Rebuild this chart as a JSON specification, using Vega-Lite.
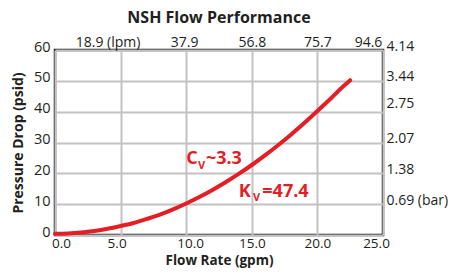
{
  "$schema": "https://vega.github.io/schema/vega-lite/v6.json",
  "width": 328,
  "height": 185,
  "autosize": "none",
  "padding": {"left": 55, "top": 50, "right": 70, "bottom": 38},
  "title": {"text": "NSH Flow Performance", "fontSize": 16, "fontWeight": "bold", "color": "#231f20", "font": "Open Sans", "anchor": "middle", "offset": 9},
  "config": {
    "view": {"stroke": "#231f20", "strokeWidth": 2.5},
    "font": "Open Sans",
    "axis": {"labelColor": "#231f20", "titleColor": "#231f20", "labelFont": "Open Sans", "titleFont": "Open Sans", "labelFlush": false}
  },
  "datasets": {
    "curve": [
      {"q": 0, "p": 0.4}, {"q": 1, "p": 0.5}, {"q": 2, "p": 0.8}, {"q": 3, "p": 1.3},
      {"q": 4, "p": 2.0}, {"q": 5, "p": 2.9}, {"q": 6, "p": 3.9}, {"q": 7, "p": 5.2},
      {"q": 8, "p": 6.6}, {"q": 9, "p": 8.3}, {"q": 10, "p": 10.2}, {"q": 11, "p": 12.3},
      {"q": 12, "p": 14.6}, {"q": 13, "p": 17.1}, {"q": 14, "p": 19.8}, {"q": 15, "p": 22.7},
      {"q": 16, "p": 25.8}, {"q": 17, "p": 29.1}, {"q": 18, "p": 32.6}, {"q": 19, "p": 36.3},
      {"q": 20, "p": 40.2}, {"q": 21, "p": 44.2}, {"q": 22, "p": 48.3}, {"q": 22.5, "p": 50.2}
    ],
    "bigtext": [
      {"x": 10.0, "y": 24.6, "t": "C"},
      {"x": 11.5, "y": 24.6, "t": "~3.3"},
      {"x": 14.0, "y": 13.96, "t": "K"},
      {"x": 15.8, "y": 13.96, "t": "=47.4"}
    ],
    "subtext": [
      {"x": 10.9, "y": 22.4, "t": "V"},
      {"x": 15.1, "y": 11.9, "t": "V"}
    ]
  },
  "layer": [
    {
      "data": {"name": "curve"},
      "mark": {"type": "line", "color": "#e31e24", "strokeWidth": 4, "strokeCap": "round", "interpolate": "monotone"},
      "encoding": {
        "x": {"field": "q", "type": "quantitative", "scale": {"domain": [0, 25], "nice": false},
          "axis": {"orient": "bottom", "values": [0, 5, 10, 15, 20, 25], "format": ".1f", "grid": true, "gridColor": "#c2c2c2", "gridWidth": 2, "ticks": false, "domain": false,
            "labelFontSize": 13.5, "labelPadding": 1, "labelFlush": false,
            "labelOffset": {"condition": [{"test": "datum.value == 0", "value": 6}, {"test": "datum.value == 25", "value": -7}, {"test": "datum.value == 5", "value": -4}, {"test": "datum.value == 10", "value": 4}], "value": 0},
            "title": "Flow Rate (gpm)", "titleFontSize": 13.5, "titleFontWeight": "bold", "titlePadding": 4}},
        "y": {"field": "p", "type": "quantitative", "scale": {"domain": [0, 60], "nice": false},
          "axis": {"orient": "left", "values": [0, 10, 20, 30, 40, 50, 60], "grid": true, "gridColor": "#c2c2c2", "gridWidth": 2, "ticks": false, "domain": false,
            "labelFontSize": 14.5, "labelPadding": 5, "labelOffset": -3,
            "title": "Pressure Drop (psid)", "titleFontSize": 14, "titleFontWeight": "bold", "titlePadding": 8}}
      }
    },
    {
      "data": {"name": "curve"},
      "mark": {"type": "line", "opacity": 0},
      "encoding": {
        "x": {"field": "q", "type": "quantitative",
          "axis": {"orient": "top", "values": [5, 10, 15, 20, 25], "grid": false, "ticks": false, "domain": false, "title": null,
            "labelFontSize": 14, "labelPadding": 1, "labelFlush": false,
            "labelExpr": "datum.value == 5 ? '18.9 (lpm)' : datum.value == 10 ? '37.9' : datum.value == 15 ? '56.8' : datum.value == 20 ? '75.7' : '94.6'",
            "labelOffset": {"condition": [{"test": "datum.value == 5", "value": -13}, {"test": "datum.value == 25", "value": -15}, {"test": "datum.value == 10", "value": -2}], "value": 0}}},
        "y": {"field": "p", "type": "quantitative",
          "axis": {"orient": "right", "values": [10, 20, 30, 40, 50, 60], "grid": false, "ticks": false, "domain": false, "title": null,
            "labelFontSize": 14, "labelPadding": 3,
            "labelExpr": "datum.value == 10 ? '0.69 (bar)' : datum.value == 20 ? '1.38' : datum.value == 30 ? '2.07' : datum.value == 40 ? '2.75' : datum.value == 50 ? '3.44' : '4.14'",
            "labelOffset": {"condition": [{"test": "datum.value == 40", "value": -8}], "value": -4}}}
      }
    },
    {
      "data": {"name": "bigtext"},
      "mark": {"type": "text", "align": "left", "baseline": "middle", "fontSize": 18, "fontWeight": "bold", "color": "#e31e24"},
      "encoding": {
        "x": {"field": "x", "type": "quantitative", "axis": null},
        "y": {"field": "y", "type": "quantitative", "axis": null},
        "text": {"field": "t"}
      }
    },
    {
      "data": {"name": "subtext"},
      "mark": {"type": "text", "align": "left", "baseline": "middle", "fontSize": 11, "fontWeight": "bold", "color": "#e31e24"},
      "encoding": {
        "x": {"field": "x", "type": "quantitative", "axis": null},
        "y": {"field": "y", "type": "quantitative", "axis": null},
        "text": {"field": "t"}
      }
    }
  ],
  "resolve": {"axis": {"x": "independent", "y": "independent"}}
}
